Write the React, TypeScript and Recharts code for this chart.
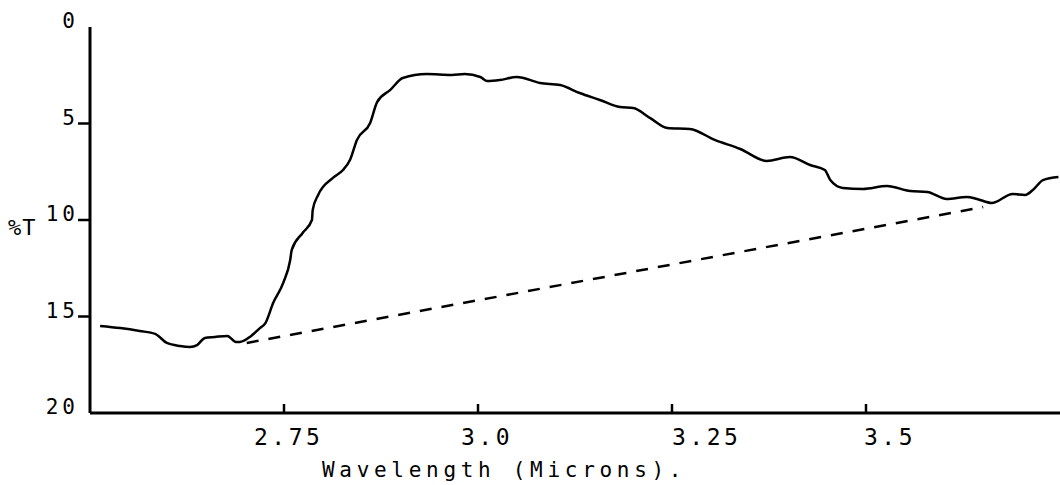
import React from 'react';
import { LineChart, Line, XAxis, YAxis, Label } from 'recharts';

// transmission trace
const wavelength = [
    2.513, 2.539, 2.564, 2.584, 2.599, 2.616, 2.629, 2.638, 2.648, 2.661,
    2.677, 2.688, 2.693, 2.706, 2.719, 2.726, 2.736, 2.749, 2.758, 2.760,
    2.774, 2.786, 2.787, 2.794, 2.813, 2.826, 2.835, 2.844, 2.861, 2.870,
    2.887, 2.903, 2.934, 2.966, 2.983, 3.003, 3.012, 3.028, 3.050, 3.080,
    3.106, 3.131, 3.157, 3.183, 3.200, 3.222, 3.244, 3.273, 3.305, 3.338,
    3.372, 3.402, 3.428, 3.447, 3.454, 3.470, 3.496, 3.527, 3.557, 3.579,
    3.604, 3.630, 3.643, 3.662, 3.689, 3.705, 3.715, 3.728, 3.748,
];
const percentT = [
    15.49, 15.6, 15.75, 15.9, 16.37, 16.53, 16.58, 16.48, 16.11, 16.06,
    16.01, 16.32, 16.32, 16.06, 15.6, 15.34, 14.3, 13.26, 12.07, 11.55,
    10.67, 10.0, 9.48, 8.7, 7.82, 7.41, 6.89, 5.85, 4.97, 3.89,
    3.26, 2.64, 2.44, 2.49, 2.44, 2.59, 2.8, 2.75, 2.59, 2.9,
    3.01, 3.42, 3.78, 4.15, 4.2, 4.72, 5.23, 5.28, 5.85, 6.32,
    6.94, 6.74, 7.15, 7.41, 7.93, 8.34, 8.39, 8.24, 8.5, 8.55,
    8.91, 8.81, 8.91, 9.12, 8.65, 8.7, 8.45, 7.93, 7.77,
];

// dashed baseline
const baselineWavelength = [2.702, 3.651];
const baselineT = [16.37, 9.33];

const xTicks = [2.75, 3.0, 3.25, 3.5];
const xTickLabels = ['2.75', '3.0', '3.25', '3.5'];
const yTicks = [0, 5, 10, 15, 20];

const trace = wavelength.map((x, i) => ({ x, t: percentT[i] }));
const baseline = baselineWavelength.map((x, i) => ({ x, t: baselineT[i] }));

const font = '"DejaVu Sans Mono", monospace';
// the typed labels are not centred on their ticks
const xLabelShift = [-30, -17, 0, -2];

const XTick = (props: any) => {
    const { x, y, index } = props;
    return (
        <g>
            <line x1={x} y1={y} x2={x} y2={y - 9} stroke="#000" strokeWidth={2.5} />
            <text x={x + xLabelShift[index]} y={y + 32} textAnchor="start"
                fontFamily={font} fontSize={23} letterSpacing={3.5} fill="#000">
                {xTickLabels[index]}
            </text>
        </g>
    );
};

const YTick = (props: any) => {
    const { x, y, payload } = props;
    const v = payload.value;
    return (
        <g>
            {v !== 0 && v !== 20 && (
                <line x1={x - 12} y1={y} x2={x} y2={y} stroke="#000" strokeWidth={2.5} />
            )}
            <text x={x - 11} y={y + 1} textAnchor="end"
                fontFamily={font} fontSize={21} letterSpacing={4} fill="#000">
                {v}
            </text>
        </g>
    );
};

export default function App() {
    return (
        <div style={{ position: 'absolute', left: 0, top: 0, background: '#fff' }}>
            <LineChart width={1060} height={485} data={trace}
                margin={{ top: 27, right: 0, bottom: 0, left: 0 }}>
                <XAxis dataKey="x" type="number" domain={[2.5, 3.75]} ticks={xTicks}
                    height={72} tickSize={0} tickMargin={0} tickLine={false}
                    tick={<XTick />} interval={0}
                    axisLine={{ stroke: '#000', strokeWidth: 3 }}>
                    <Label content={() => (
                        <text x={322} y={477} fontFamily={font} fontSize={21}
                            letterSpacing={4.7} fill="#000">Wavelength (Microns).</text>
                    )} />
                </XAxis>
                <YAxis dataKey="t" type="number" domain={[0, 20]} reversed ticks={yTicks}
                    width={90} tickSize={0} tickMargin={0} tickLine={false}
                    tick={<YTick />} interval={0}
                    axisLine={{ stroke: '#000', strokeWidth: 3 }}>
                    <Label content={() => (
                        <text x={8} y={235} fontFamily={font} fontSize={22}
                            letterSpacing={1} fill="#000">%T</text>
                    )} />
                </YAxis>
                <Line data={trace} dataKey="t" type="monotone" stroke="#000"
                    strokeWidth={2.5} dot={false} isAnimationActive={false} />
                <Line data={baseline} dataKey="t" type="linear" stroke="#000"
                    strokeWidth={2.5} strokeDasharray="12 10" dot={false}
                    isAnimationActive={false} />
            </LineChart>
        </div>
    );
}
